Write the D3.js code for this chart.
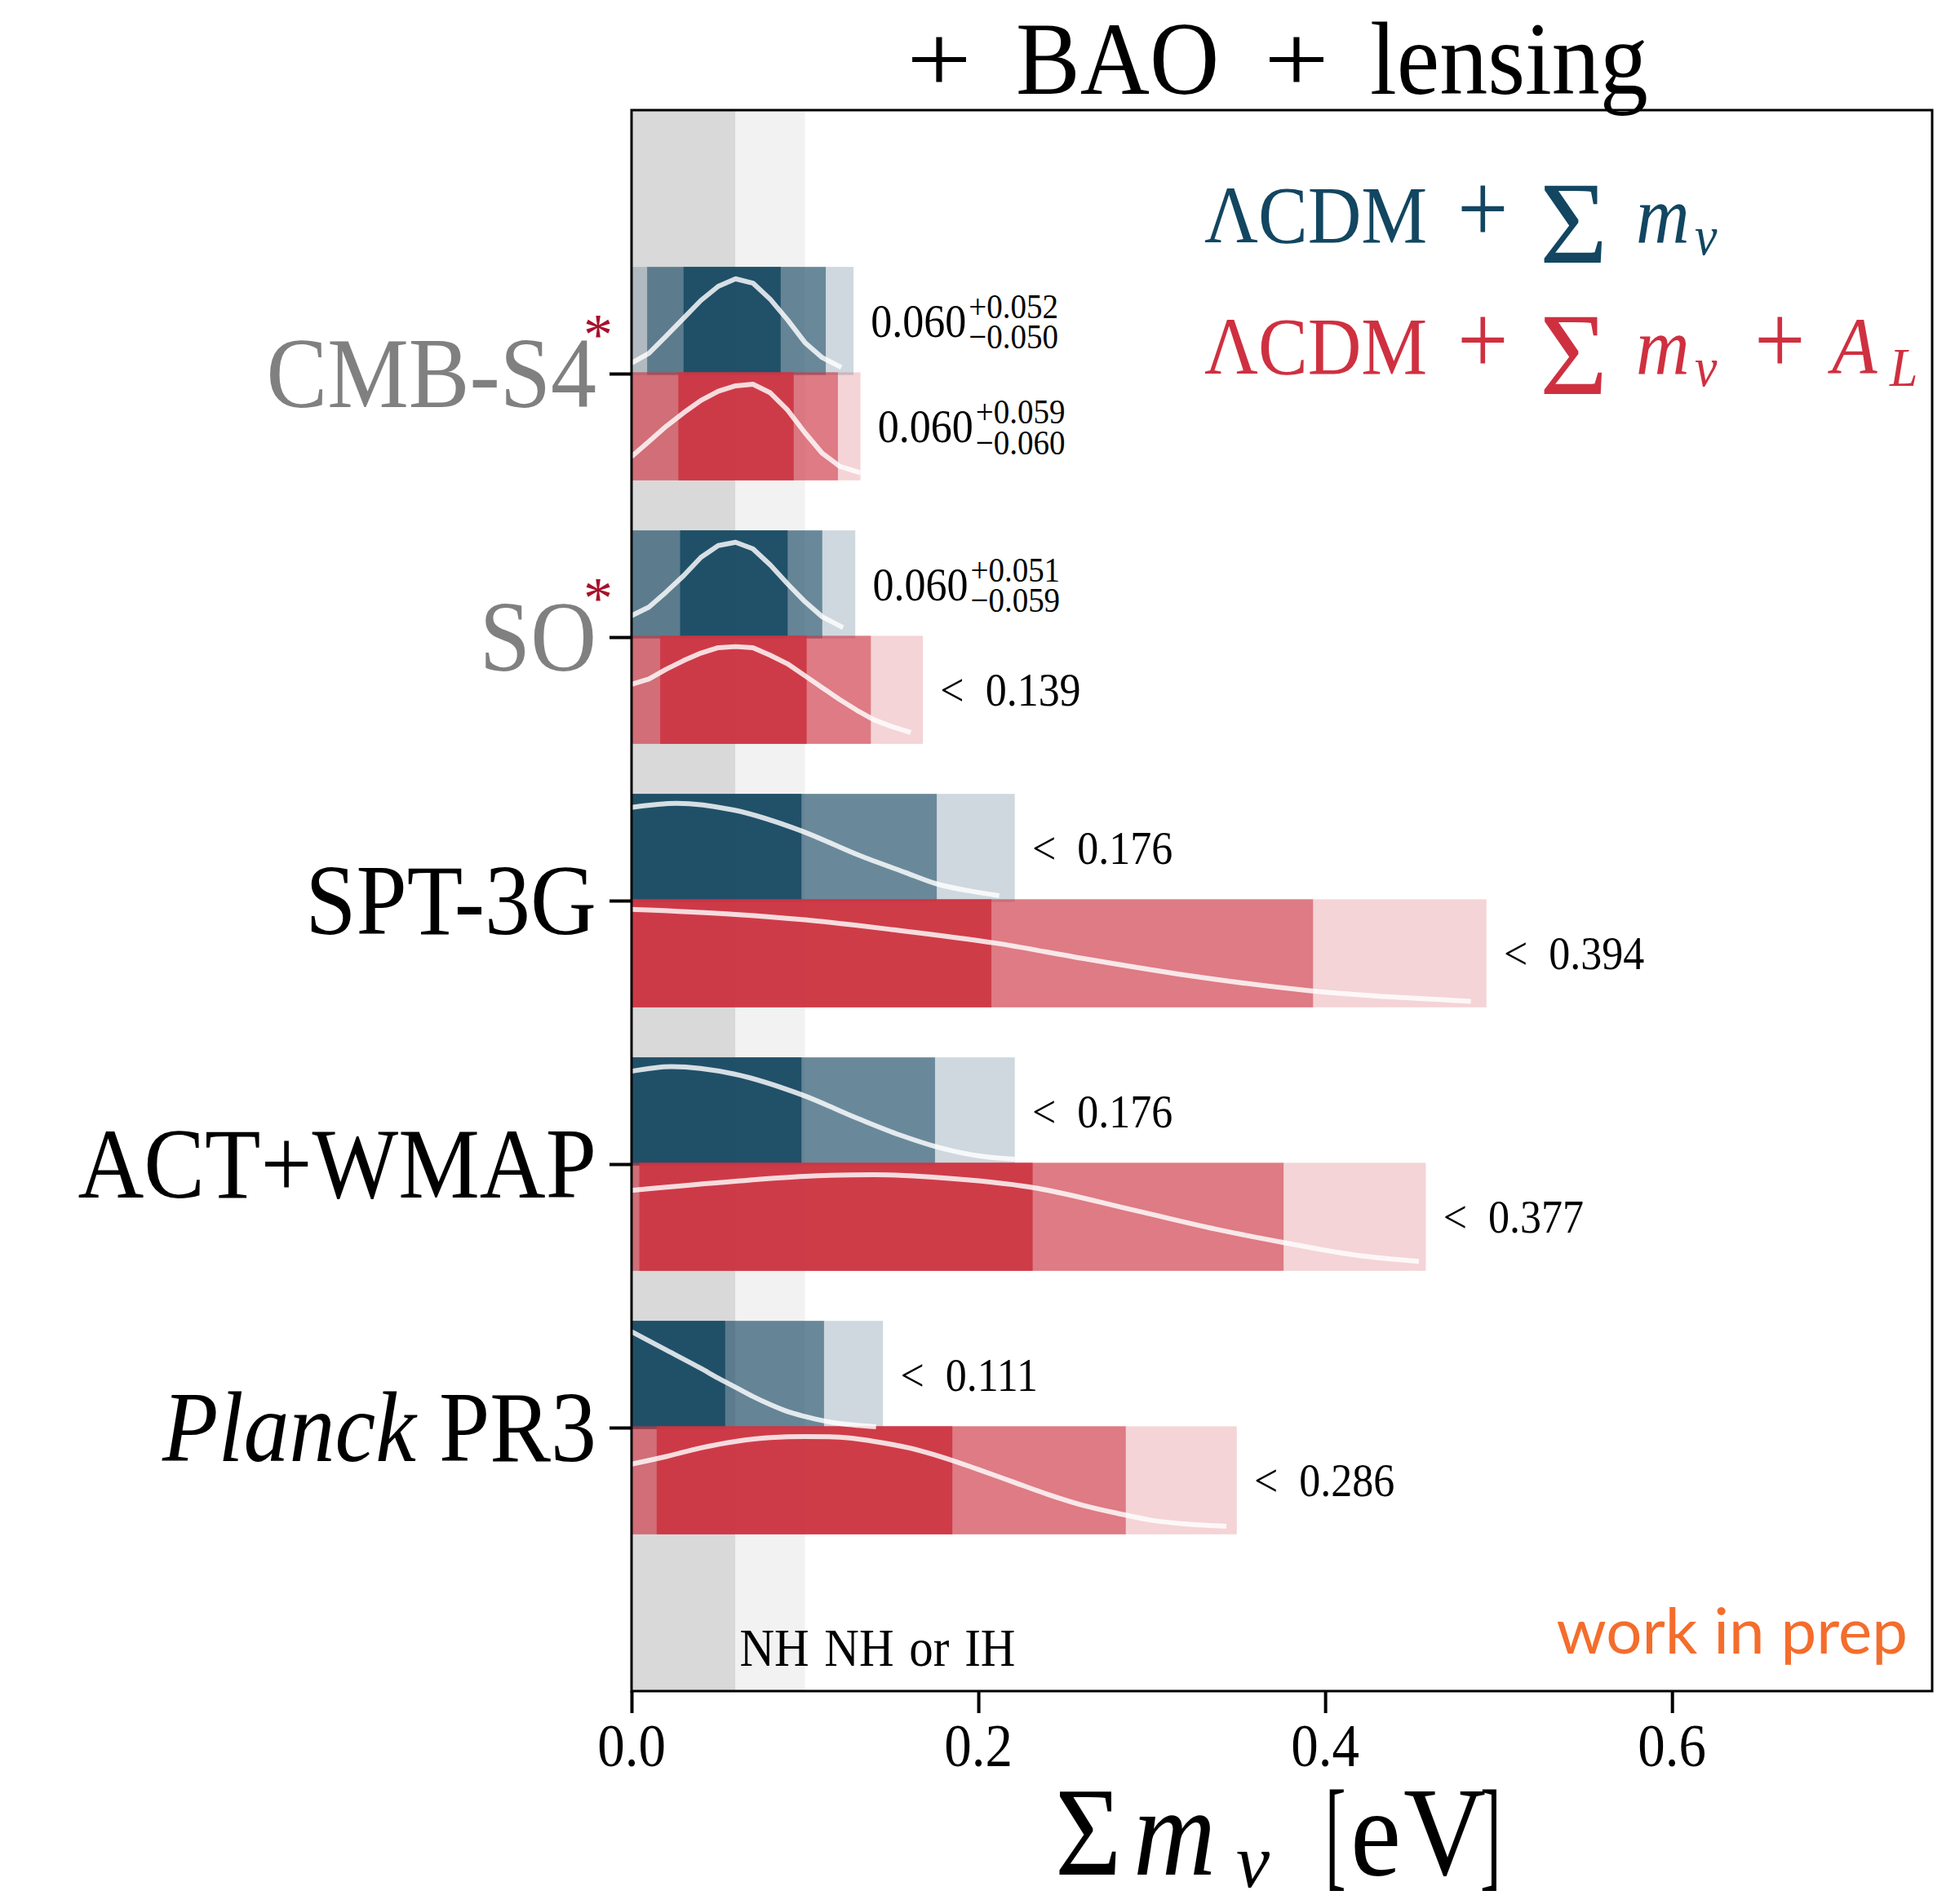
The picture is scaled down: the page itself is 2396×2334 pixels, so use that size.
<!DOCTYPE html>
<html>
<head>
<meta charset="utf-8">
<script src="https://cdn.jsdelivr.net/npm/d3@7"></script>
<style>
  body { margin: 0; background: #fff; }
</style>
</head>
<body>
<div id="chart"></div>
<script>
// experiments, top to bottom
const experiments = ["CMB-S4", "SO", "SPT-3G", "ACT+WMAP", "Planck PR3"];
const expPos = [4, 3, 2, 1, 0];
const isForecast = [true, true, false, false, false];

// LCDM + sum(m_nu), blue: inner / 95% / outer intervals [eV]
const blueInnerLo = [0.030, 0.028, 0, 0, 0];
const blueInnerHi = [0.086, 0.090, 0.098, 0.098, 0.054];
const blueMidLo = [0.009, 0, 0, 0, 0];
const blueMidHi = [0.112, 0.110, 0.176, 0.175, 0.111];
const blueOuterHi = [0.128, 0.129, 0.221, 0.221, 0.145];

// LCDM + sum(m_nu) + A_L, red
const redInnerLo = [0.027, 0.0165, 0, 0.0045, 0.0145];
const redInnerHi = [0.0935, 0.101, 0.2075, 0.2313, 0.185];
const redMidLo = [0, 0, 0, 0, 0];
const redMidHi = [0.119, 0.138, 0.393, 0.376, 0.285];
const redOuterHi = [0.132, 0.168, 0.493, 0.458, 0.349];

// quoted results
const blueMain = ["0.060", "0.060", "< 0.176", "< 0.176", "< 0.111"];
const blueUp = ["+0.052", "+0.051", null, null, null];
const blueDown = ["\u22120.050", "\u22120.059", null, null, null];
const redMain = ["0.060", "< 0.139", "< 0.394", "< 0.377", "< 0.286"];
const redUp = ["+0.059", null, null, null, null];
const redDown = ["\u22120.060", null, null, null, null];

// posteriors, [m_nu, height as fraction of bar]
const postS4Blue = [[0,0.11],[0.01,0.20],[0.02,0.36],[0.03,0.525],[0.04,0.69],[0.05,0.82],[0.06,0.89],[0.07,0.85],[0.08,0.70],[0.09,0.51],[0.10,0.30],[0.11,0.16],[0.121,0.07]];
const postSOBlue = [[0,0.21],[0.01,0.29],[0.02,0.43],[0.03,0.58],[0.04,0.75],[0.05,0.86],[0.06,0.89],[0.07,0.83],[0.08,0.68],[0.09,0.505],[0.10,0.34],[0.11,0.20],[0.122,0.10]];
const postSPTBlue = [[0,0.875],[0.026,0.913],[0.059,0.85],[0.098,0.657],[0.131,0.433],[0.158,0.272],[0.176,0.167],[0.197,0.096],[0.212,0.058]];
const postACTBlue = [[0,0.872],[0.023,0.915],[0.059,0.847],[0.098,0.655],[0.131,0.431],[0.155,0.28],[0.175,0.176],[0.204,0.08],[0.221,0.058]];
const postPlanckBlue = [[0,0.90],[0.02,0.73],[0.04,0.56],[0.05,0.47],[0.06,0.385],[0.07,0.30],[0.08,0.225],[0.09,0.16],[0.10,0.115],[0.11,0.077],[0.12,0.05],[0.13,0.033],[0.141,0.02]];
const postS4Red = [[0,0.22],[0.01,0.36],[0.02,0.50],[0.03,0.625],[0.04,0.74],[0.05,0.825],[0.06,0.875],[0.07,0.89],[0.08,0.81],[0.09,0.65],[0.10,0.44],[0.11,0.25],[0.12,0.13],[0.132,0.07]];
const postSORed = [[0,0.55],[0.01,0.60],[0.02,0.69],[0.03,0.77],[0.04,0.84],[0.05,0.89],[0.06,0.90],[0.07,0.89],[0.08,0.82],[0.09,0.74],[0.10,0.63],[0.11,0.52],[0.12,0.41],[0.13,0.31],[0.14,0.22],[0.15,0.16],[0.161,0.105]];
const postSPTRed = [[0,0.906],[0.06,0.86],[0.10,0.81],[0.15,0.72],[0.21,0.594],[0.26,0.453],[0.32,0.297],[0.39,0.156],[0.44,0.094],[0.484,0.056]];
const postACTRed = [[0,0.745],[0.06,0.83],[0.10,0.875],[0.14,0.89],[0.18,0.86],[0.23,0.775],[0.29,0.56],[0.34,0.375],[0.375,0.265],[0.42,0.14],[0.454,0.088]];
const postPlanckRed = [[0,0.65],[0.02,0.72],[0.04,0.80],[0.06,0.86],[0.08,0.895],[0.10,0.905],[0.12,0.90],[0.14,0.86],[0.16,0.80],[0.18,0.71],[0.20,0.60],[0.22,0.485],[0.24,0.37],[0.26,0.27],[0.28,0.195],[0.30,0.13],[0.32,0.095],[0.343,0.075]];
const postBlue = [postS4Blue, postSOBlue, postSPTBlue, postACTBlue, postPlanckBlue];
const postRed = [postS4Red, postSORed, postSPTRed, postACTRed, postPlanckRed];

// mass ordering bands
const nhMin = 0.06, ihMin = 0.10;
const xTicks = [0, 0.2, 0.4, 0.6];

const W = 2396, H = 2334;
const SERIF = "'Liberation Serif', 'Times New Roman', serif";
const BLUE = "#1a4b65", RED = "#cd3643", STAR = "#a8102a", GREY = "#808080";
const LEG_BLUE = "#124661", LEG_RED = "#cf3040";
const layerAlpha = [0.215, 0.56, 0.913];
const TS = 1.1; // text is a bit taller than wide in the original

const svg = d3.select("#chart").append("svg")
    .attr("width", W).attr("height", H)
    .style("background", "#fff");

const x = d3.scaleLinear().domain([0, 0.75]).range([774, 2368]);
const y = d3.scaleLinear().domain([-1, 5]).range([2073, 135]);

function addText(parent, px, py, fs, anchor, sx, sy) {
    const g = parent.append("g")
        .attr("transform", `translate(${px},${py}) scale(${sx || 1},${sy || TS})`);
    return g.append("text")
        .attr("font-family", SERIF)
        .attr("font-size", fs)
        .attr("fill", "#000")
        .attr("text-anchor", anchor || "start");
}

// grey bands behind everything
svg.append("rect")
    .attr("x", x(0)).attr("width", x(nhMin) - x(0))
    .attr("y", y(5)).attr("height", y(-1) - y(5))
    .attr("fill", "#d9d9d9");
svg.append("rect")
    .attr("x", x(nhMin)).attr("width", x(ihMin) - x(nhMin))
    .attr("y", y(5)).attr("height", y(-1) - y(5))
    .attr("fill", "#f2f2f2");

const barH = 0.405, overlap = 0.005;
const fsVal = 52, fsSup = 39;

function drawBar(yTop, yBot, lo, hi, color, alpha) {
    svg.append("rect")
        .attr("x", x(lo)).attr("width", x(hi) - x(lo))
        .attr("y", y(yTop)).attr("height", y(yBot) - y(yTop))
        .attr("fill", color).attr("fill-opacity", alpha);
}

const line = d3.line().x(d => x(d[0]));

function valueLabel(px, yc, main, up, down) {
    const base = y(yc) + 0.338 * fsVal * TS;
    const t = addText(svg, px, base, fsVal);
    if (main.startsWith("<")) {
        t.append("tspan").text("<");
        t.append("tspan").attr("dx", 0.5 * fsVal).text(main.slice(1).trim());
    } else {
        t.text(main);
        const w = t.node().getComputedTextLength();
        const g = d3.select(t.node().parentNode);
        [[up, -23], [down, 14.6]].forEach(([s, dy]) => {
            g.append("text")
                .attr("x", w + 3).attr("y", dy / TS)
                .attr("font-family", SERIF).attr("font-size", fsSup)
                .text(s);
        });
    }
}

experiments.forEach((name, i) => {
    const p = expPos[i];
    // blue above the tick
    const bTop = p + barH, bBot = p - overlap;
    drawBar(bTop, bBot, 0, blueOuterHi[i], BLUE, layerAlpha[0]);
    drawBar(bTop, bBot, blueMidLo[i], blueMidHi[i], BLUE, layerAlpha[1]);
    drawBar(bTop, bBot, blueInnerLo[i], blueInnerHi[i], BLUE, layerAlpha[2]);
    // red below the tick
    const rTop = p + overlap, rBot = p - barH;
    drawBar(rTop, rBot, 0, redOuterHi[i], RED, layerAlpha[0]);
    drawBar(rTop, rBot, redMidLo[i], redMidHi[i], RED, layerAlpha[1]);
    drawBar(rTop, rBot, redInnerLo[i], redInnerHi[i], RED, layerAlpha[2]);

    const crv = isForecast[i] ? d3.curveLinear : d3.curveMonotoneX;
    [[postBlue[i], bBot, bTop], [postRed[i], rBot, rTop]].forEach(([pts, lo, hi]) => {
        svg.append("path")
            .attr("d", line.y(d => y(lo + d[1] * (hi - lo))).curve(crv)(pts))
            .attr("fill", "none").attr("stroke", "#fff")
            .attr("stroke-opacity", 0.82).attr("stroke-width", 6)
            .attr("stroke-linejoin", "round");
    });

    valueLabel(x(blueOuterHi[i] + 0.01), p + 0.2, blueMain[i], blueUp[i], blueDown[i]);
    valueLabel(x(redOuterHi[i] + 0.01), p - 0.2, redMain[i], redUp[i], redDown[i]);
});

// frame
svg.append("rect")
    .attr("x", x(0)).attr("y", y(5))
    .attr("width", x(0.75) - x(0)).attr("height", y(-1) - y(5))
    .attr("fill", "none").attr("stroke", "#000").attr("stroke-width", 3);

// axes (ticks only, labels drawn below)
const tickLen = 27;
svg.append("g")
    .attr("transform", `translate(0,${y(-1)})`)
    .call(d3.axisBottom(x).tickValues(xTicks).tickSize(tickLen).tickFormat(""))
    .call(g => g.select(".domain").remove())
    .call(g => g.selectAll(".tick line").attr("stroke", "#000").attr("stroke-width", 4));
svg.append("g")
    .attr("transform", `translate(${x(0)},0)`)
    .call(d3.axisLeft(y).tickValues(expPos).tickSize(tickLen).tickFormat(""))
    .call(g => g.select(".domain").remove())
    .call(g => g.selectAll(".tick line").attr("stroke", "#000").attr("stroke-width", 4));

xTicks.forEach(v => {
    addText(svg, x(v), 2165, 67, "middle").text(d3.format(".1f")(v));
});

// experiment labels
const fsY = 112;
const labelRight = x(0) - tickLen - 16;
experiments.forEach((name, i) => {
    const base = y(expPos[i]) + 0.331 * fsY * TS;
    const t = addText(svg, labelRight, base, fsY, "end")
        .attr("fill", isForecast[i] ? GREY : "#000");
    if (name.startsWith("Planck")) {
        t.append("tspan").attr("font-style", "italic").text("Planck");
        t.append("tspan").text(" PR3");
    } else {
        t.text(name);
    }
    if (isForecast[i]) {
        svg.append("text")
            .attr("x", labelRight + 2).attr("y", y(expPos[i]) - 62 + 0.53 * 72)
            .attr("text-anchor", "middle")
            .attr("font-family", SERIF).attr("font-size", 72)
            .attr("fill", STAR).text("*");
    }
});

// title
const cx = (x(0) + x(0.75)) / 2;
const fsT = 118, tb = 115;
addText(svg, cx - 460, tb - 2, 118, "start", 1.2, 1).text("+");
addText(svg, cx - 326, tb, fsT, "start", 1, 1.08).text("BAO");
addText(svg, cx - 22, tb - 2, 118, "start", 1.2, 1).text("+");
addText(svg, cx + 108, tb, fsT, "start", 1, 1.08).text("lensing");

// legend
const lx = 1476, fsL = 91;
function legendLine(base, color, withAL) {
    const put = (dx, str, fs, italic, dy) => {
        const t = addText(svg, lx + dx, base + (dy || 0), fs).attr("fill", color).text(str);
        if (italic) t.attr("font-style", "italic");
        return t;
    };
    put(0, "\u039BCDM", fsL);
    put(310, "+", fsL * 1.22);
    addText(svg, lx + 411, base + 25, 143, "start", 1, 1).attr("fill", color).text("\u03A3");
    put(529, "m", fsL, true);
    put(601, "\u03BD", fsL * 0.68, true, 15);
    if (withAL) {
        put(674, "+", fsL * 1.22);
        put(769, "A", fsL, true);
        put(840, "L", fsL * 0.68, true, 15);
    }
}
legendLine(297, LEG_BLUE, false);
legendLine(458, LEG_RED, true);

// x label
const fsX = 140, xb = 2298;
addText(svg, cx - 278, xb, fsX).text("\u03A3");
addText(svg, cx - 182, xb, fsX).attr("font-style", "italic").text("m");
addText(svg, cx - 56, xb + 15, fsX * 0.66, "start", 1, 1).attr("font-style", "italic").text("\u03BD");
addText(svg, cx + 53, xb, fsX, "start", 0.55, 1.08).text("[");
addText(svg, cx + 84, xb, fsX).text("e");
addText(svg, cx + 149, xb, fsX).text("V");
addText(svg, cx + 243, xb, fsX, "start", 0.55, 1.08).text("]");

// hierarchy note
addText(svg, x(0.0623), 2042, 59).attr("word-spacing", 4).text("NH NH or IH");

svg.append("text")
    .attr("x", 2338).attr("y", 2027)
    .attr("text-anchor", "end")
    .attr("font-size", 78)
    .attr("font-family", "Lato, 'Open Sans', sans-serif")
    .attr("fill", "#f46d2c")
    .text("work in prep");
</script>
</body>
</html>
